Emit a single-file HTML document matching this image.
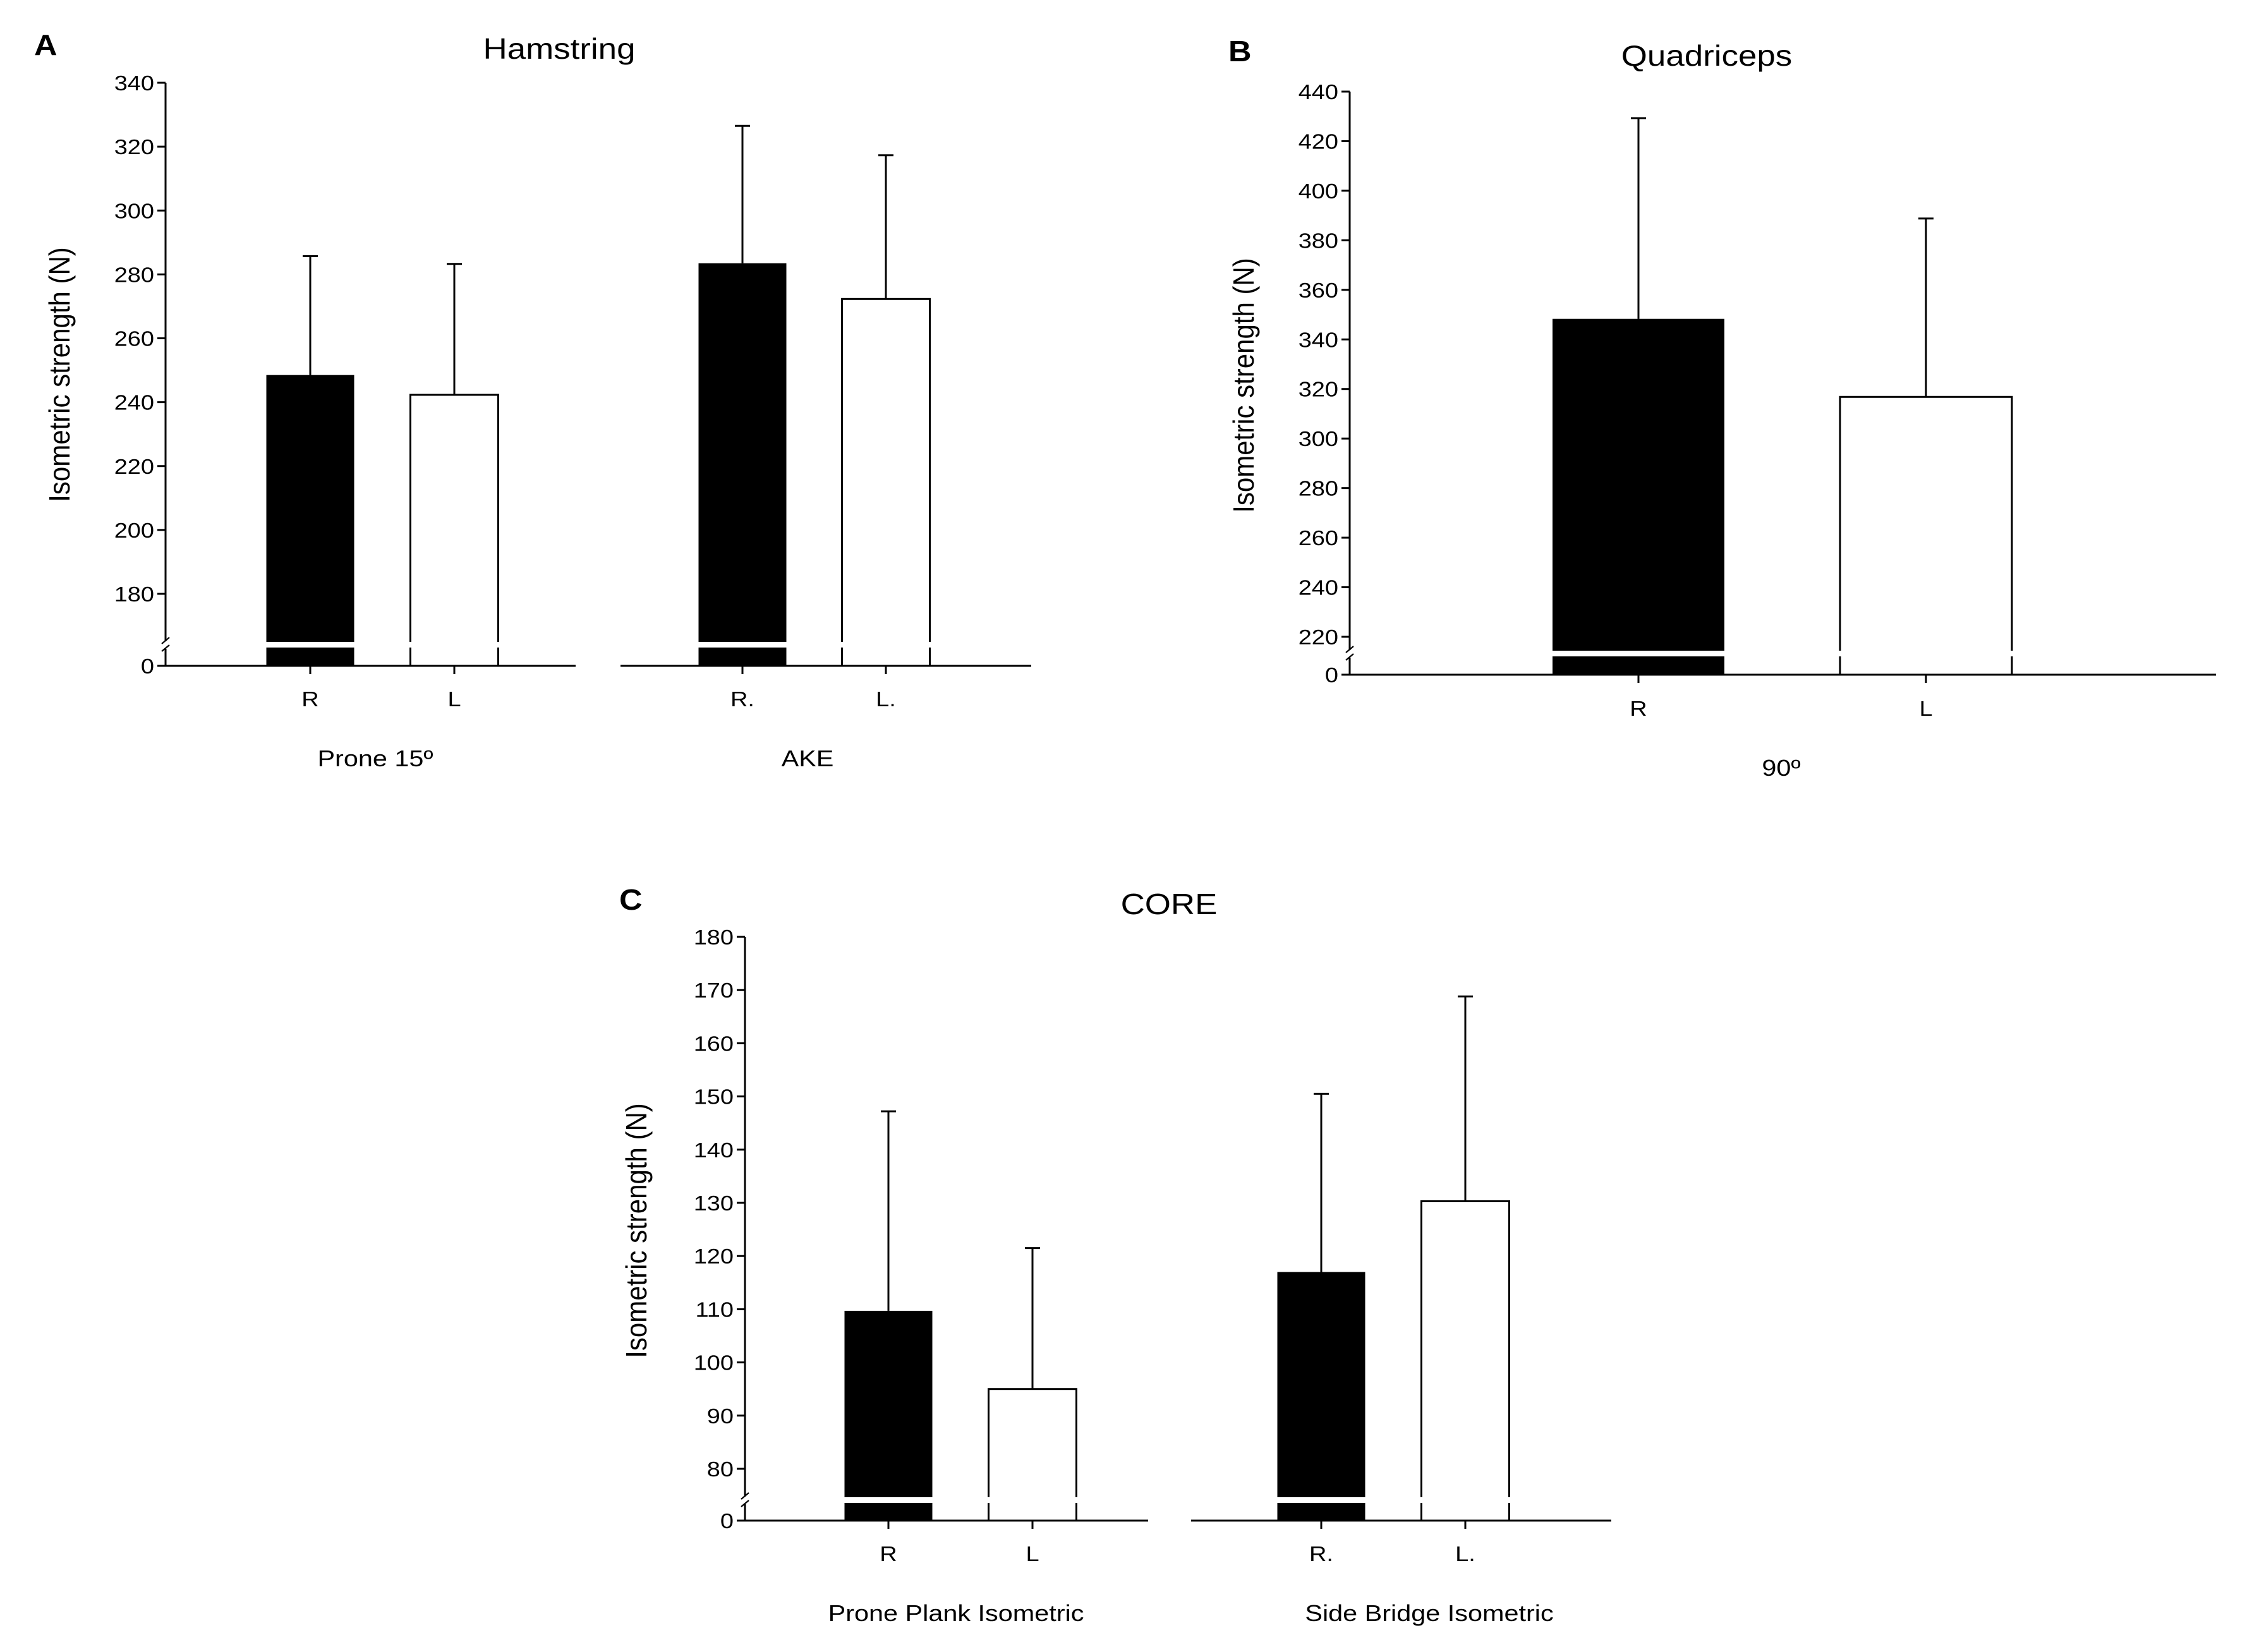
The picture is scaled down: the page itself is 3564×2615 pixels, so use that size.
<!DOCTYPE html>
<html><head><meta charset="utf-8"><style>
html,body{margin:0;padding:0;background:#fff;}
svg{display:block;font-family:"Liberation Sans",Arial,sans-serif;}
</style></head><body>
<svg id="fig" width="3564" height="2615" viewBox="0 0 3564 2615" xmlns="http://www.w3.org/2000/svg">
<rect width="3564" height="2615" fill="#fff"/>
</svg>
<script>
// Panel A data (Hamstring)
const hamGroups = ["Prone 15º", "AKE"];
const hamSides = [["R","L"],["R.","L."]];
const hamMeans = [[248.5, 242.3],[283.5, 272.3]];
const hamTops = [[285.7, 283.3],[326.5, 317.3]];
const hamTicks = [180,200,220,240,260,280,300,320,340];
// Panel B data (Quadriceps)
const quadGroups = ["90º"];
const quadSides = [["R","L"]];
const quadMeans = [[348.3, 316.8]];
const quadTops = [[429.3, 388.8]];
const quadTicks = [220,240,260,280,300,320,340,360,380,400,420,440];
// Panel C data (CORE)
const coreGroups = ["Prone Plank Isometric", "Side Bridge Isometric"];
const coreSides = [["R","L"],["R.","L."]];
const coreMeans = [[109.7, 95.0],[117.0, 130.3]];
const coreTops = [[147.2, 121.5],[150.5, 168.8]];
const coreTicks = [80,90,100,110,120,130,140,150,160,170,180];

const NS = "http://www.w3.org/2000/svg";
const svg = document.getElementById("fig");
function mk(tag, attrs, parent){
  const e = document.createElementNS(NS, tag);
  for (const k in attrs) e.setAttribute(k, attrs[k]);
  (parent||svg).appendChild(e);
  return e;
}
function txt(str, x, y, size, anchor, parent, extra){
  const t = mk("text", {x:0, y:0, "font-size":size, "text-anchor":anchor||"middle", fill:"#000",
    transform:"translate("+x+","+y+") "+(extra===undefined?"scale(1.15,1)":extra)}, parent);
  t.textContent = str;
  return t;
}

function panel(cfg){
  const g = mk("g", {});
  
  
  const t0 = cfg.ticks[0], tN = cfg.ticks[cfg.ticks.length-1];
  const ppu = (cfg.yLow - cfg.yTop) / (tN - t0);
  const Y = v => cfg.yLow - (v - t0) * ppu;
  const lw = 3;
  const L = txt(cfg.letter, cfg.letterX, cfg.letterY, 46, "start", g, "scale(1.1,1)");
  L.setAttribute("font-weight","bold");
  
  
  const T = txt(cfg.title, cfg.titleX, cfg.titleY, 46, "middle", g);
  
  
  const ax = mk("g", {}, g);
  
  
  mk("line", {x1:cfg.axisX, y1:cfg.yTop, x2:cfg.axisX, y2:cfg.breakY-6, stroke:"#000","stroke-width":lw}, ax);
  mk("line", {x1:cfg.axisX, y1:cfg.breakY+6, x2:cfg.axisX, y2:cfg.base, stroke:"#000","stroke-width":lw}, ax);
  mk("line", {x1:cfg.axisX-6, y1:cfg.breakY-2, x2:cfg.axisX+6, y2:cfg.breakY-12, stroke:"#000","stroke-width":2.2}, ax);
  mk("line", {x1:cfg.axisX-6, y1:cfg.breakY+10, x2:cfg.axisX+6, y2:cfg.breakY, stroke:"#000","stroke-width":2.2}, ax);
  const allTicks = [0].concat(cfg.ticks);
  allTicks.forEach(v => {
    const y = v === 0 ? cfg.base : Y(v);
    mk("line", {x1:cfg.axisX-13, y1:y, x2:cfg.axisX, y2:y, stroke:"#000","stroke-width":lw}, ax);
    const tl = txt(String(v), cfg.axisX-18, y+12, 33, "end", ax);
    
    
  });
  const yt = txt("Isometric strength (N)", 0, 0, 42, "middle", g, "");
  yt.setAttribute("transform", "translate("+(cfg.yTitleX)+","+cfg.yTitleY+") rotate(-90) scale(1,1.1)");
  
  
  cfg.groups.forEach((grp, gi) => {
    const seg = cfg.segs[gi];
    const xa = mk("line", {x1:seg[0], y1:cfg.base, x2:seg[1], y2:cfg.base, stroke:"#000","stroke-width":lw}, g);
    
    
    const cl = txt(grp, cfg.groupX[gi], cfg.groupLabelY, 36, "middle", g);
    
    
    [0,1].forEach(si => {
      const cx = cfg.barX[gi][si], w = cfg.barW;
      const x = cx - w/2, top = Y(cfg.means[gi][si]), etop = Y(cfg.tops[gi][si]);
      const filled = si === 0;
      const bg = mk("g", {}, g);
      
      
      mk("line", {x1:cx, y1:etop, x2:cx, y2:top, stroke:"#000","stroke-width":lw}, bg);
      mk("line", {x1:cx-12, y1:etop, x2:cx+12, y2:etop, stroke:"#000","stroke-width":lw}, bg);
      if (filled){
        mk("rect", {x:x, y:top, width:w, height:cfg.base-top, fill:"#000"}, bg);
        mk("rect", {x:x-1, y:cfg.breakY-5, width:w+2, height:9, fill:"#fff"}, bg);
      } else {
        mk("rect", {x:x, y:top, width:w, height:cfg.base-top, fill:"#fff", stroke:"#000","stroke-width":lw}, bg);
        mk("rect", {x:x-4, y:cfg.breakY-5, width:8, height:9, fill:"#fff"}, bg);
        mk("rect", {x:x+w-4, y:cfg.breakY-5, width:8, height:9, fill:"#fff"}, bg);
      }
      mk("line", {x1:cx, y1:cfg.base, x2:cx, y2:cfg.base+13, stroke:"#000","stroke-width":lw}, bg);
      const sl = txt(cfg.sides[gi][si], cx, cfg.sideLabelY, 33, "middle", bg);
      
      
    });
  });
}

panel({name:"panel-a-hamstring", letter:"A", letterX:54, letterY:87, title:"Hamstring", titleX:885, titleY:93,
  ticks:hamTicks, yTop:131, yLow:940, base:1054, breakY:1021, axisX:262,
  yTitleX:110, yTitleY:593, groups:hamGroups, sides:hamSides, means:hamMeans, tops:hamTops,
  segs:[[262,911],[982,1632]], barX:[[491,719],[1175,1402]], barW:139,
  sideLabelY:1118, groupX:[594,1278], groupLabelY:1213});

panel({name:"panel-b-quadriceps", letter:"B", letterX:1944, letterY:97, title:"Quadriceps", titleX:2701, titleY:104,
  ticks:quadTicks, yTop:145, yLow:1008, base:1068, breakY:1035, axisX:2136,
  yTitleX:1984, yTitleY:610, groups:quadGroups, sides:quadSides, means:quadMeans, tops:quadTops,
  segs:[[2136,3507]], barX:[[2593,3048]], barW:272,
  sideLabelY:1133, groupX:[2819], groupLabelY:1228});

panel({name:"panel-c-core", letter:"C", letterX:980, letterY:1440, title:"CORE", titleX:1850, titleY:1447,
  ticks:coreTicks, yTop:1483, yLow:2325, base:2407, breakY:2375, axisX:1179,
  yTitleX:1023, yTitleY:1948, groups:coreGroups, sides:coreSides, means:coreMeans, tops:coreTops,
  segs:[[1179,1817],[1885,2550]], barX:[[1406,1634],[2091,2319]], barW:139,
  sideLabelY:2471, groupX:[1513,2262], groupLabelY:2566});
</script>
</body></html>
